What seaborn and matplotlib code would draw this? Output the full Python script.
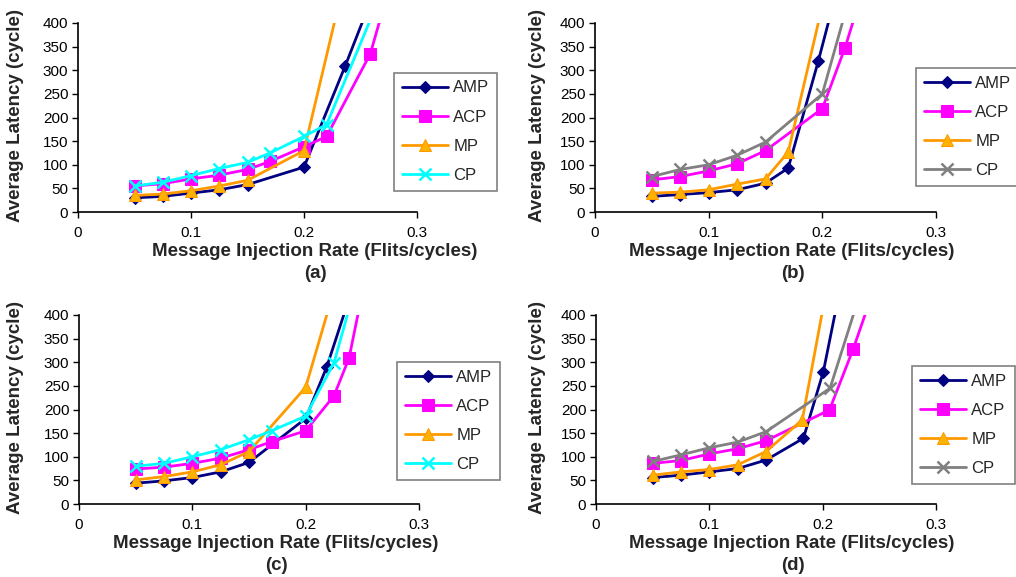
import numpy as np
import pandas as pd
import matplotlib
matplotlib.use("Agg")
import matplotlib.pyplot as plt
import seaborn as sns

# series values, (x, latency) per scheme
panel_a = {
    "AMP": ([0.05, 0.075, 0.1, 0.125, 0.15, 0.2, 0.2366, 0.26], [30, 33, 40, 47, 58, 95, 310, 453]),
    "ACP": ([0.05, 0.075, 0.1, 0.125, 0.15, 0.17, 0.2, 0.22, 0.2587, 0.28], [55, 60, 70, 78, 90, 107, 138, 160, 335, 513]),
    "MP": ([0.05, 0.075, 0.1, 0.125, 0.15, 0.2, 0.24], [35, 38, 45, 55, 67, 130, 533]),
    "CP": ([0.05, 0.075, 0.1, 0.125, 0.15, 0.17, 0.2, 0.22, 0.29], [55, 63, 77, 92, 105, 125, 160, 185, 586]),
}
panel_b = {
    "AMP": ([0.05, 0.075, 0.1, 0.125, 0.15, 0.17, 0.1964, 0.21], [33, 37, 41, 47, 61, 93, 319, 444]),
    "ACP": ([0.05, 0.075, 0.1, 0.125, 0.15, 0.2, 0.22, 0.24], [68, 75, 87, 102, 130, 219, 348, 503]),
    "MP": ([0.05, 0.075, 0.1, 0.125, 0.15, 0.17, 0.21], [40, 42, 47, 59, 70, 127, 540]),
    "CP": ([0.05, 0.075, 0.1, 0.125, 0.15, 0.2, 0.23], [75, 90, 100, 120, 148, 250, 506]),
}
panel_c = {
    "AMP": ([0.05, 0.075, 0.1, 0.125, 0.15, 0.2, 0.2186, 0.24], [44, 49, 56, 68, 88, 181, 290, 447]),
    "ACP": ([0.05, 0.075, 0.1, 0.125, 0.15, 0.17, 0.2, 0.225, 0.2383, 0.25], [74, 78, 86, 97, 115, 132, 155, 229, 309, 447]),
    "MP": ([0.05, 0.075, 0.1, 0.125, 0.15, 0.2, 0.24], [51, 58, 68, 83, 111, 247, 576]),
    "CP": ([0.05, 0.075, 0.1, 0.125, 0.15, 0.17, 0.2, 0.225, 0.25], [80, 86, 100, 115, 136, 155, 186, 299, 513]),
}
panel_d = {
    "AMP": ([0.05, 0.075, 0.1, 0.125, 0.15, 0.183, 0.2006, 0.22], [56, 61, 68, 75, 93, 139, 280, 511]),
    "ACP": ([0.05, 0.075, 0.1, 0.125, 0.15, 0.206, 0.2271, 0.25], [86, 92, 106, 117, 134, 199, 329, 488]),
    "MP": ([0.05, 0.075, 0.1, 0.125, 0.15, 0.182, 0.215], [61, 68, 73, 83, 111, 178, 604]),
    "CP": ([0.05, 0.075, 0.1, 0.125, 0.15, 0.2065, 0.24], [90, 104, 119, 131, 153, 245, 498]),
}
panel_tags = ["(a)", "(b)", "(c)", "(d)"]
x_ticks = [0, 0.1, 0.2, 0.3]
y_ticks = [0, 50, 100, 150, 200, 250, 300, 350, 400]

sns.set_style("white")
plt.rcParams["font.family"] = ["Liberation Sans", "DejaVu Sans"]

W, H = 1016, 577
fig = plt.figure(figsize=(W / 100, H / 100), dpi=100)

styles = {
    "AMP": dict(color="#000080", marker="D", markersize=6.5, mfc="#000080", mec="#000080"),
    "ACP": dict(color="#FF00FF", marker="s", markersize=8, mfc="#FF00FF", mec="#FF00FF"),
    "MP": dict(color="#FF9900", marker="^", markersize=9, mfc="#FFB300", mec="#FF9900"),
    "CP": dict(color="#00FFFF", marker="x", markersize=8, mew=1.8, mfc="#00FFFF", mec="#00FFFF"),
}

# pixel boxes: (left, top, right, bottom) of the plot area; legend box; label centres
layout = [
    dict(box=(78, 23, 417, 212), leg=(394, 73), xl=(315, 251), tag=(315, 274), yl=(16, 115), cp="#00FFFF"),
    dict(box=(595, 23, 936, 212), leg=(916, 68), xl=(792, 251), tag=(793, 274), yl=(537, 115), cp="#808080"),
    dict(box=(79, 315, 419, 504), leg=(397, 362), xl=(276, 543), tag=(276, 566), yl=(16, 408), cp="#00FFFF"),
    dict(box=(596, 315, 936, 504), leg=(912, 366), xl=(792, 543), tag=(793, 566), yl=(537, 408), cp="#808080"),
]

for panel, lay, tag in zip([panel_a, panel_b, panel_c, panel_d], layout, panel_tags):
    l, t, r, b = lay["box"]
    ax = fig.add_axes([l / W, 1 - b / H, (r - l) / W, (b - t) / H])
    for name, (xs, ys) in panel.items():
        st = dict(styles[name])
        if name == "CP":
            st.update(color=lay["cp"], mfc=lay["cp"], mec=lay["cp"])
        df = pd.DataFrame({"x": xs, "y": ys})
        sns.lineplot(data=df, x="x", y="y", ax=ax, sort=False, estimator=None,
                     label=name, linewidth=2, clip_on=True, **st)
    ax.set_xlim(0, 0.3)
    ax.set_ylim(0, 400)
    ax.set_xticks(x_ticks)
    ax.set_xticklabels(["0", "0.1", "0.2", "0.3"])
    ax.set_yticks(y_ticks)
    ax.set_xlabel("")
    ax.set_ylabel("")
    for s in ["top", "right"]:
        ax.spines[s].set_visible(False)
    for s in ["left", "bottom"]:
        ax.spines[s].set_color("black")
        ax.spines[s].set_linewidth(1.2)
    ax.tick_params(direction="out", length=4, width=1, colors="black", labelsize=11,
                   bottom=True, left=True)
    ax.tick_params(axis="x", pad=6)
    ax.tick_params(axis="y", pad=3)
    ax.legend(loc="upper left", bbox_to_anchor=(lay["leg"][0] / W, 1 - lay["leg"][1] / H),
              bbox_transform=fig.transFigure, frameon=True, fancybox=False, fontsize=12,
              edgecolor="#808080", framealpha=1, handlelength=2.8, labelspacing=0.85,
              borderpad=0.45, handletextpad=0.3, borderaxespad=0)
    ax.get_legend().get_frame().set_linewidth(1.2)
    fig.text(lay["xl"][0] / W, 1 - lay["xl"][1] / H, "Message Injection Rate (Flits/cycles)",
             ha="center", va="center", fontsize=13.5, fontweight="bold")
    fig.text(lay["tag"][0] / W, 1 - lay["tag"][1] / H, tag,
             ha="center", va="center", fontsize=13.5, fontweight="bold")
    fig.text(lay["yl"][0] / W, 1 - lay["yl"][1] / H, "Average Latency (cycle)",
             ha="center", va="center", rotation=90, fontsize=13.5, fontweight="bold")

fig.savefig("out.png", dpi=100)
